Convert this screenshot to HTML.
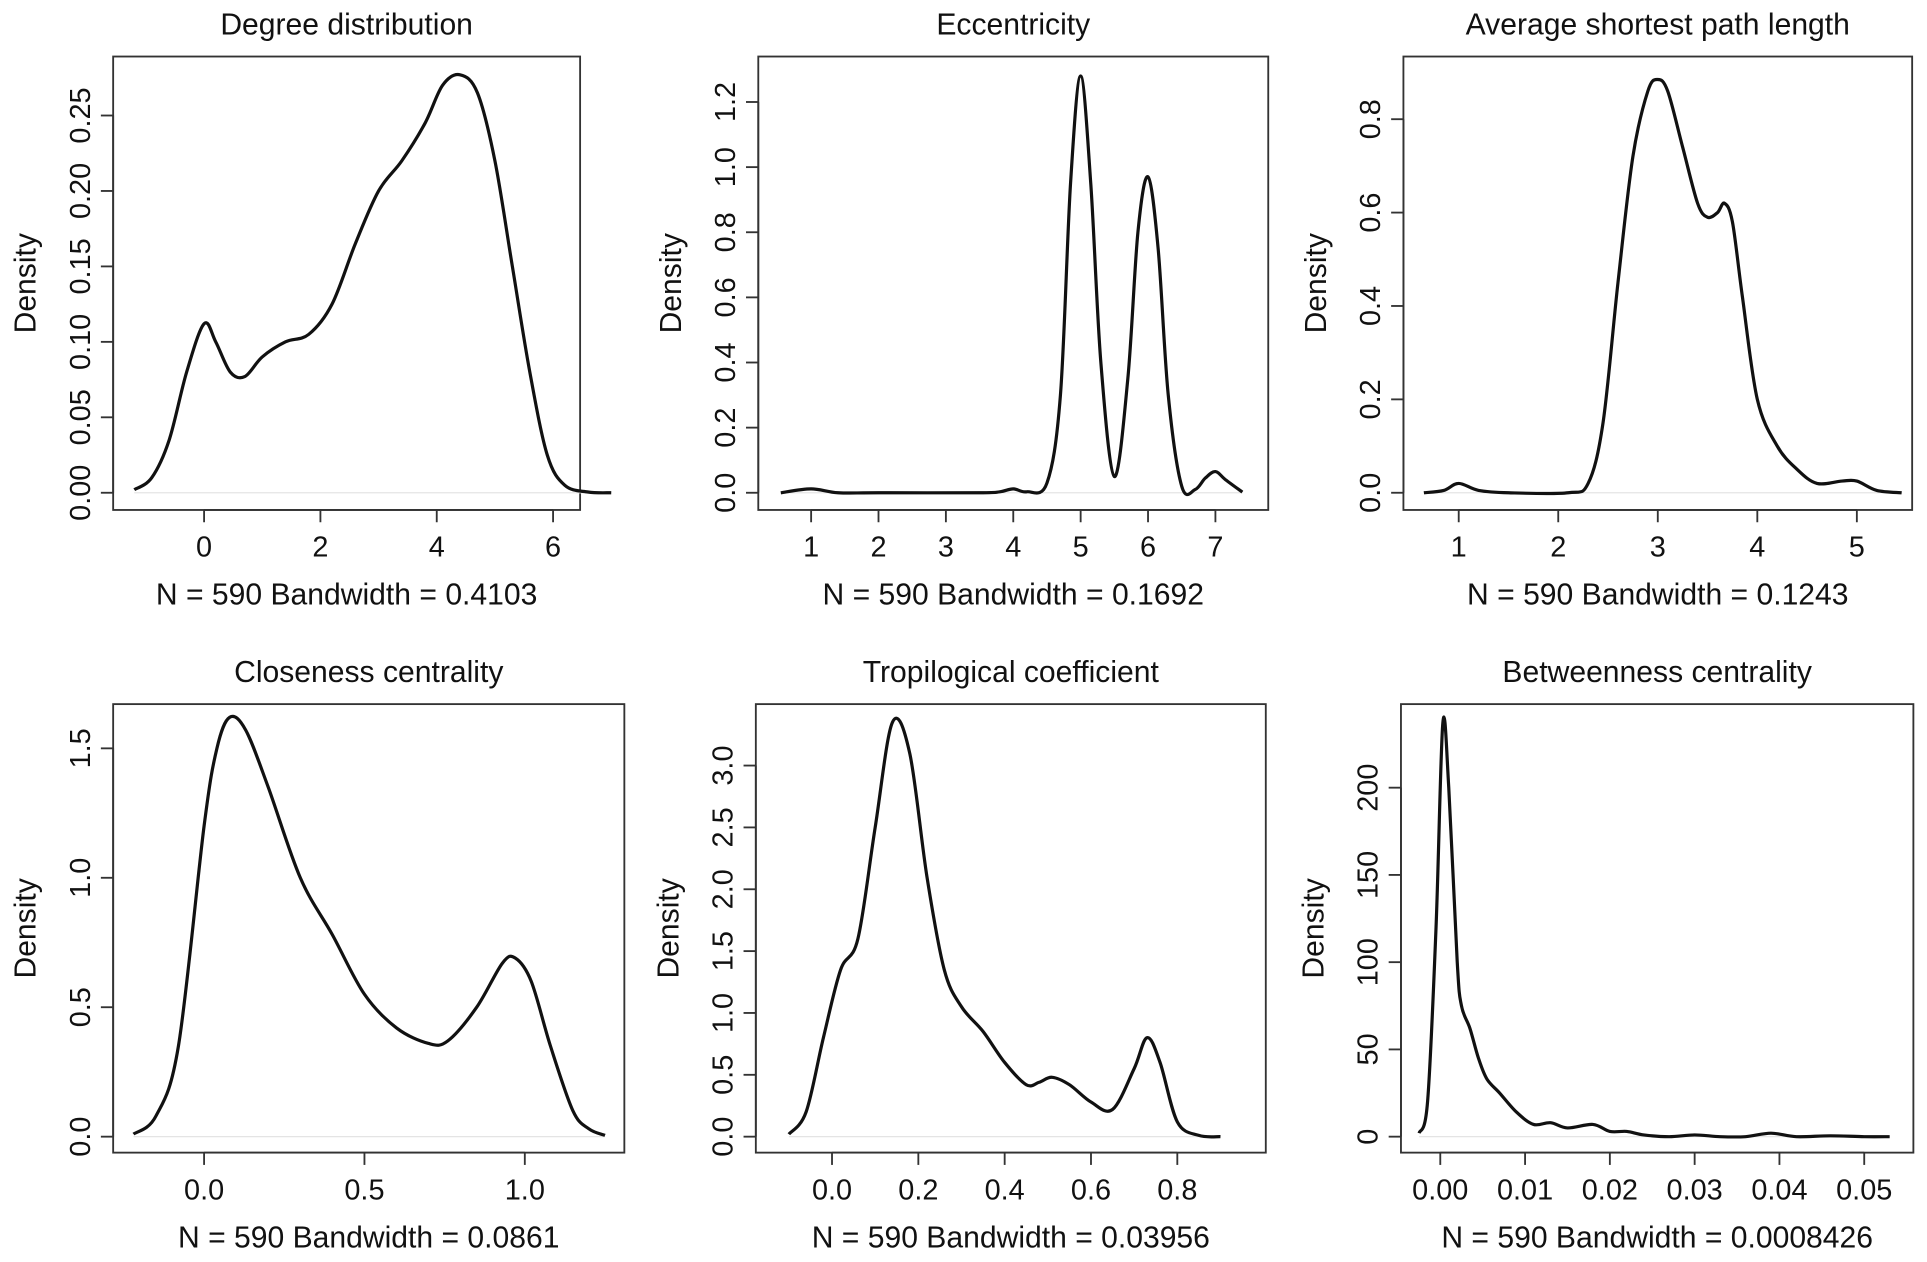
<!DOCTYPE html>
<html><head><meta charset="utf-8"><style>
html,body{margin:0;padding:0;background:#fff;}
svg{display:block;font-family:"Liberation Sans",Arial,sans-serif;}
</style></head><body>
<svg id="chart" width="1927" height="1262" viewBox="0 0 1568 1027" xmlns="http://www.w3.org/2000/svg"></svg>
<script>
// ---- Data ----
const titles = ["Degree distribution","Eccentricity","Average shortest path length","Closeness centrality","Tropilogical coefficient","Betweenness centrality"];
const xlabels = ["N = 590 Bandwidth = 0.4103","N = 590 Bandwidth = 0.1692","N = 590 Bandwidth = 0.1243","N = 590 Bandwidth = 0.0861","N = 590 Bandwidth = 0.03956","N = 590 Bandwidth = 0.0008426"];
const xTicks1 = [0,2,4,6];
const xTickLabels1 = ["0","2","4","6"];
const yTicks1 = [0,0.05,0.10,0.15,0.20,0.25];
const yTickLabels1 = ["0.00","0.05","0.10","0.15","0.20","0.25"];
const xTicks2 = [1,2,3,4,5,6,7];
const xTickLabels2 = ["1","2","3","4","5","6","7"];
const yTicks2 = [0,0.2,0.4,0.6,0.8,1.0,1.2];
const yTickLabels2 = ["0.0","0.2","0.4","0.6","0.8","1.0","1.2"];
const xTicks3 = [1,2,3,4,5];
const xTickLabels3 = ["1","2","3","4","5"];
const yTicks3 = [0,0.2,0.4,0.6,0.8];
const yTickLabels3 = ["0.0","0.2","0.4","0.6","0.8"];
const xTicks4 = [0,0.5,1.0];
const xTickLabels4 = ["0.0","0.5","1.0"];
const yTicks4 = [0,0.5,1.0,1.5];
const yTickLabels4 = ["0.0","0.5","1.0","1.5"];
const xTicks5 = [0,0.2,0.4,0.6,0.8];
const xTickLabels5 = ["0.0","0.2","0.4","0.6","0.8"];
const yTicks5 = [0,0.5,1.0,1.5,2.0,2.5,3.0];
const yTickLabels5 = ["0.0","0.5","1.0","1.5","2.0","2.5","3.0"];
const xTicks6 = [0,0.01,0.02,0.03,0.04,0.05];
const xTickLabels6 = ["0.00","0.01","0.02","0.03","0.04","0.05"];
const yTicks6 = [0,50,100,150,200];
const yTickLabels6 = ["0","50","100","150","200"];

const degX = [-1.2,-0.9,-0.6,-0.3,0,0.2,0.45,0.7,1,1.4,1.8,2.2,2.6,3,3.4,3.8,4.1,4.4,4.7,5,5.3,5.6,5.9,6.2,6.6,7];
const degY = [0.002,0.01,0.035,0.08,0.112,0.1,0.08,0.077,0.09,0.1,0.105,0.125,0.165,0.2,0.22,0.245,0.27,0.277,0.265,0.22,0.15,0.08,0.025,0.005,0.0005,0];
const eccX = [0.55,1,1.4,2,3.5,3.8,4,4.2,4.5,4.7,4.85,5,5.15,5.3,5.5,5.7,5.85,6,6.15,6.3,6.5,6.7,6.85,7,7.15,7.4];
const eccY = [0,0.012,0,0,0,0.003,0.012,0.003,0.03,0.3,0.95,1.28,0.95,0.4,0.05,0.35,0.8,0.97,0.75,0.3,0.02,0.01,0.045,0.065,0.04,0.002];
const asplX = [0.65,0.85,1,1.2,1.5,2.1,2.3,2.45,2.6,2.75,2.9,3,3.1,3.25,3.4,3.5,3.6,3.67,3.75,3.85,4,4.2,4.4,4.6,4.85,5,5.2,5.45];
const asplY = [0,0.005,0.02,0.005,0,0,0.02,0.15,0.45,0.72,0.86,0.885,0.86,0.74,0.62,0.59,0.6,0.62,0.58,0.42,0.2,0.1,0.05,0.02,0.025,0.025,0.005,0];
const closX = [-0.22,-0.15,-0.08,0,0.04,0.08,0.13,0.2,0.3,0.4,0.5,0.6,0.7,0.76,0.85,0.93,0.97,1.02,1.08,1.15,1.2,1.25];
const closY = [0.01,0.08,0.35,1.2,1.5,1.62,1.57,1.35,1.0,0.78,0.55,0.42,0.36,0.37,0.5,0.67,0.69,0.6,0.35,0.1,0.03,0.005];
const tropX = [-0.1,-0.06,-0.02,0.02,0.06,0.1,0.14,0.18,0.22,0.26,0.3,0.35,0.4,0.45,0.48,0.51,0.55,0.6,0.65,0.7,0.73,0.76,0.8,0.85,0.9];
const tropY = [0.02,0.2,0.8,1.35,1.6,2.5,3.35,3.1,2.1,1.35,1.05,0.85,0.6,0.42,0.44,0.48,0.42,0.28,0.22,0.55,0.8,0.6,0.12,0.01,0];
const betwX = [-0.0025,-0.0015,-0.0005,0.0003,0.001,0.002,0.0025,0.0035,0.0045,0.0055,0.007,0.009,0.011,0.013,0.015,0.018,0.02,0.022,0.024,0.027,0.03,0.033,0.036,0.039,0.042,0.046,0.05,0.053];
const betwY = [2,20,120,237,200,100,75,62,45,33,25,14,7,8,5,7,3,3,1,0,1,0,0,2,0,0.5,0,0];

// ---- Layout (display units) ----
const panels = [
 {box:[92,46,472,415], xa:[0,166,6,450], ya:[0,401,0.25,94], xs:degX, ys:degY, xt:xTicks1, xl:xTickLabels1, yt:yTicks1, yl:yTickLabels1, name:"degree"},
 {box:[617,46,1032,415], xa:[1,660,7,989], ya:[0,401,1.2,83], xs:eccX, ys:eccY, xt:xTicks2, xl:xTickLabels2, yt:yTicks2, yl:yTickLabels2, name:"eccentricity"},
 {box:[1142,46,1556,415], xa:[1,1187,5,1511], ya:[0,401,0.8,97], xs:asplX, ys:asplY, xt:xTicks3, xl:xTickLabels3, yt:yTicks3, yl:yTickLabels3, name:"avg-path-length"},
 {box:[92,573,508,938], xa:[0,166,1,427], ya:[0,925,1.5,609], xs:closX, ys:closY, xt:xTicks4, xl:xTickLabels4, yt:yTicks4, yl:yTickLabels4, name:"closeness"},
 {box:[615,573,1030,938], xa:[0,677,0.8,958], ya:[0,925,3.0,623], xs:tropX, ys:tropY, xt:xTicks5, xl:xTickLabels5, yt:yTicks5, yl:yTickLabels5, name:"tropilogical"},
 {box:[1140,573,1557,938], xa:[0,1172,0.05,1517], ya:[0,925,200,641], xs:betwX, ys:betwY, xt:xTicks6, xl:xTickLabels6, yt:yTicks6, yl:yTickLabels6, name:"betweenness"}
];
const NS="http://www.w3.org/2000/svg";
const svg=document.getElementById('chart');
function mk(tag,attrs,parent){const e=document.createElementNS(NS,tag);for(const k in attrs)e.setAttribute(k,attrs[k]);(parent||svg).appendChild(e);return e;}
function smooth(pts){let d="M"+pts[0][0]+","+pts[0][1];for(let i=0;i<pts.length-1;i++){const p0=pts[Math.max(0,i-1)],p1=pts[i],p2=pts[i+1],p3=pts[Math.min(pts.length-1,i+2)];const c1x=p1[0]+(p2[0]-p0[0])/6,c1y=p1[1]+(p2[1]-p0[1])/6,c2x=p2[0]-(p3[0]-p1[0])/6,c2y=p2[1]-(p3[1]-p1[1])/6;d+=" C"+c1x.toFixed(2)+","+c1y.toFixed(2)+" "+c2x.toFixed(2)+","+c2y.toFixed(2)+" "+p2[0].toFixed(2)+","+p2[1].toFixed(2);}return d;}
panels.forEach((p,i)=>{
 const g=mk('g',{});
 
 
 const sx=v=>p.xa[1]+(v-p.xa[0])*(p.xa[3]-p.xa[1])/(p.xa[2]-p.xa[0]);
 const sy=v=>p.ya[1]+(v-p.ya[0])*(p.ya[3]-p.ya[1])/(p.ya[2]-p.ya[0]);
 const [x0,y0,x1,y1]=p.box, cx=(x0+x1)/2, cy=(y0+y1)/2;
 const t=mk('text',{x:cx,y:y0-18,'text-anchor':'middle','font-size':24.5,fill:'#111'},g);t.textContent=titles[i];
 
 
 const r=mk('rect',{x:x0,y:y0,width:x1-x0,height:y1-y0,fill:'none',stroke:'#333','stroke-width':1.5},g);
 
 
 const zl=mk('line',{x1:sx(p.xs[0]),x2:sx(p.xs[p.xs.length-1]),y1:sy(0),y2:sy(0),stroke:'#e4e4e4','stroke-width':1},g);
 
 
 mk('line',{x1:sx(p.xt[0]),x2:sx(p.xt[p.xt.length-1]),y1:y1,y2:y1,stroke:'#333','stroke-width':1.5},g);
 p.xt.forEach((v,j)=>{
  mk('line',{x1:sx(v),x2:sx(v),y1:y1,y2:y1+10,stroke:'#333','stroke-width':1.5},g);
  const tl=mk('text',{x:sx(v),y:y1+38,'text-anchor':'middle','font-size':23.5,fill:'#111'},g);tl.textContent=p.xl[j];
  
  
 });
 mk('line',{x1:x0,x2:x0,y1:sy(p.yt[0]),y2:sy(p.yt[p.yt.length-1]),stroke:'#333','stroke-width':1.5},g);
 p.yt.forEach((v,j)=>{
  mk('line',{x1:x0,x2:x0-10,y1:sy(v),y2:sy(v),stroke:'#333','stroke-width':1.5},g);
  const yy=sy(v);
  const tl=mk('text',{x:x0-19,y:yy,'text-anchor':'middle','font-size':23.5,fill:'#111',transform:`rotate(-90 ${x0-19} ${yy})`},g);tl.textContent=p.yl[j];
  
  
 });
 const xlb=mk('text',{x:cx,y:y1+77,'text-anchor':'middle','font-size':24.5,fill:'#111'},g);xlb.textContent=xlabels[i];
 
 
 const ylx=x0-63;
 const ylb=mk('text',{x:ylx,y:cy,'text-anchor':'middle','font-size':24.5,fill:'#111',transform:`rotate(-90 ${ylx} ${cy})`},g);ylb.textContent="Density";
 
 
 const pts=p.xs.map((v,k)=>[sx(v),sy(p.ys[k])]);
 const path=mk('path',{d:smooth(pts),fill:'none',stroke:'#111','stroke-width':2.6,'stroke-linejoin':'round'},g);
 
 
});
</script>
</body></html>
